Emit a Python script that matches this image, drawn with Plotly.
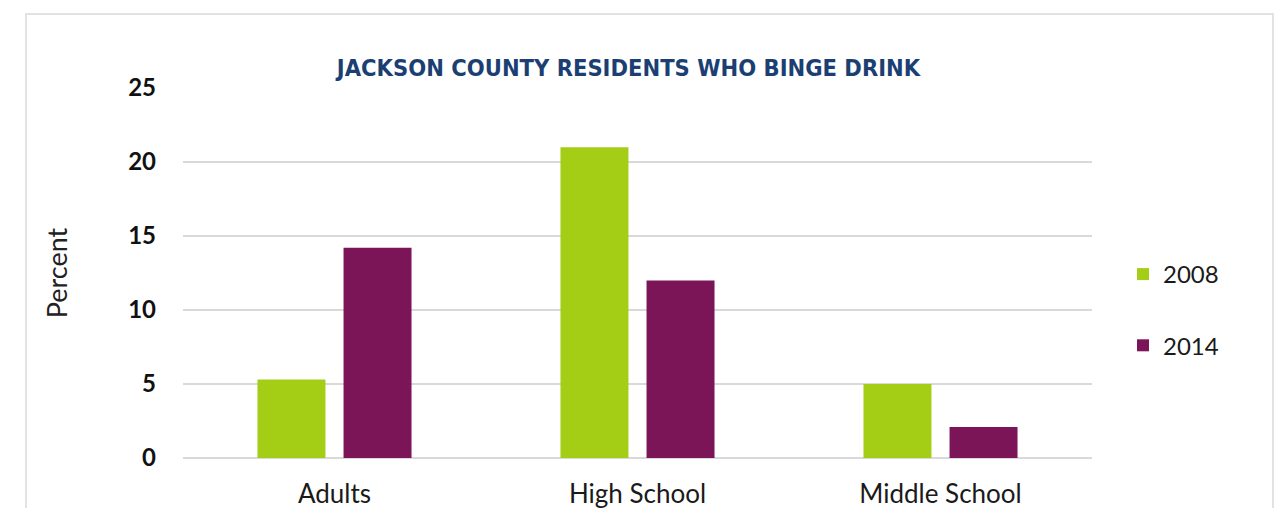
import plotly.graph_objects as go

# Binge drinking prevalence (%) by group and survey year
categories = ["Adults", "High School", "Middle School"]
years = ["2008", "2014"]
values_2008 = [5.3, 21.0, 5.0]
values_2014 = [14.2, 12.0, 2.1]
y_ticks = [0, 5, 10, 15, 20, 25]

GREEN = "#a4cd16"
PURPLE = "#7b1557"
NAVY = "#1c3f73"
GRID = "#d9d9d9"

W, H = 1285, 508
L, R, T, B = 183, 193, 88, 50
pw, ph = W - L - R, H - T - B

fig = go.Figure()
for name, vals, col in [(years[0], values_2008, GREEN), (years[1], values_2014, PURPLE)]:
    fig.add_trace(go.Bar(
        x=categories, y=vals, name=name, legendgroup=name,
        marker=dict(color=col, line=dict(width=0)),
    ))

# light frame around the whole figure (runs off the bottom edge)
def px_x(x):
    return (x - L) / pw

def px_y(y):
    return (H - B - y) / ph

fig.add_shape(type="rect", xref="paper", yref="paper",
              x0=px_x(26), x1=px_x(1273), y0=px_y(530), y1=px_y(14),
              line=dict(color="#e2e2e2", width=2), fillcolor="rgba(0,0,0,0)",
              layer="below")

fig.update_layout(
    width=W, height=H,
    margin=dict(l=L, r=R, t=T, b=B, autoexpand=False),
    paper_bgcolor="white", plot_bgcolor="white",
    barmode="group", bargap=0.432, bargroupgap=0.21,
    title=dict(text="<b>JACKSON COUNTY RESIDENTS WHO BINGE DRINK</b>",
               font=dict(family="DejaVu Sans Condensed, Roboto", size=23.5, color=NAVY),
               x=628.5 / W, xanchor="center", xref="container",
               y=1 - 68 / H, yanchor="middle", yref="container"),
    font=dict(family="Lato", color="#1a1a1a"),
    xaxis=dict(showgrid=False, showline=False, ticks="",
               tickfont=dict(family="Lato", size=26, color="#1a1a1a"),
               ticklabelstandoff=18, automargin=False),
    yaxis=dict(range=[0, 25], tickvals=y_ticks, showgrid=True, gridcolor=GRID,
               gridwidth=1.5, zeroline=True, zerolinecolor=GRID, zerolinewidth=1.5,
               showline=False, ticks="",
               tickfont=dict(family="Lato", size=24, color="#111111", weight="bold"),
               ticklabelstandoff=26, automargin=False,
               title=dict(text="Percent", standoff=52,
                          font=dict(family="Lato", size=27, color="#222222"))),
    showlegend=True,
    legend=dict(x=px_x(1123), xanchor="left", y=px_y(252), yanchor="top",
                font=dict(family="Lato", size=24, color="#1a1a1a"),
                tracegroupgap=37, bgcolor="rgba(0,0,0,0)"),
)

fig.write_html("out.html")
